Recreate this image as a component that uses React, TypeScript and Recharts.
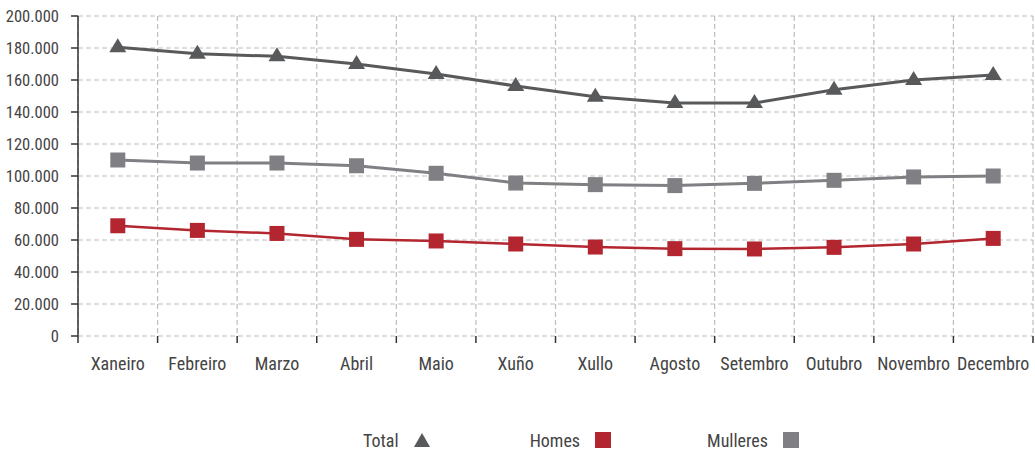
import React from 'react';
import { LineChart, Line, XAxis, YAxis, CartesianGrid, Legend } from 'recharts';

const months = ['Xaneiro', 'Febreiro', 'Marzo', 'Abril', 'Maio', 'Xuño', 'Xullo', 'Agosto', 'Setembro', 'Outubro', 'Novembro', 'Decembro'];
const total = [180400, 176400, 174800, 170000, 163750, 156250, 149600, 145600, 145600, 153900, 160000, 163200];
const homes = [68900, 66000, 64100, 60400, 59400, 57500, 55600, 54600, 54400, 55400, 57500, 61000];
const mulleres = [110000, 108100, 108100, 106400, 101700, 95600, 94600, 94000, 95400, 97300, 99400, 100000];
const yTicks = [0, 20000, 40000, 60000, 80000, 100000, 120000, 140000, 160000, 180000, 200000];
const gridTicks = [0, 1, 2, 3, 4, 5, 6, 7, 8, 9, 10, 11, 12];

const data = months.map((m, i) => ({ month: m, idx: i + 0.5, total: total[i], homes: homes[i], mulleres: mulleres[i] }));

const FONT = '"Liberation Sans Narrow", "Arial Narrow", "Roboto Condensed", "Liberation Sans", sans-serif';
const TEXT = '#444';
const C_TOTAL = '#58595b';
const C_HOMES = '#b3262f';
const C_MULL = '#808084';

const fmt = (v: number) => (v === 0 ? '0' : `${Math.round(v / 1000)}.000`);

const Tri = (props: any) => {
  const { cx, cy, fill } = props;
  if (cx == null || cy == null) return null;
  return <polygon points={`${cx},${cy - 9} ${cx + 8.5},${cy + 5} ${cx - 8.5},${cy + 5}`} fill={fill} />;
};
const Sq = (props: any) => {
  const { cx, cy, fill } = props;
  if (cx == null || cy == null) return null;
  return <rect x={cx - 7.5} y={cy - 7.5} width={15} height={15} fill={fill} />;
};

const legendItems = [
  { label: 'Total', color: C_TOTAL, shape: 'tri', gap: 100 },
  { label: 'Homes', color: C_HOMES, shape: 'sq', gap: 96 },
  { label: 'Mulleres', color: C_MULL, shape: 'sq', gap: 0 },
];

const LegendContent = () => (
  <div style={{ display: 'flex', alignItems: 'center', height: 30, paddingLeft: 363, paddingTop: 6, boxSizing: 'border-box', fontFamily: FONT, fontSize: 18, color: TEXT }}>
    {legendItems.map((it) => (
      <div key={it.label} style={{ display: 'flex', alignItems: 'center', marginRight: it.gap }}>
        <span>{it.label}</span>
        <svg width={16} height={16} style={{ marginLeft: 15 }}>
          {it.shape === 'tri' ? (
            <polygon points="8,1 16,15 0,15" fill={it.color} />
          ) : (
            <rect x={0} y={0} width={16} height={16} fill={it.color} />
          )}
        </svg>
      </div>
    ))}
  </div>
);

const EmptyTick = () => <g />;

export default function App() {
  return (
    <div style={{ position: 'absolute', left: 0, top: 0, background: '#fff' }}>
      <LineChart width={1035} height={452} data={data} margin={{ top: 16, right: 2, bottom: 0, left: 0 }}>
        <CartesianGrid xAxisId="a_grid" stroke="#bdbdbd" strokeDasharray="5 3" strokeWidth={1.2} />
        <XAxis
          xAxisId="a_grid"
          type="number"
          dataKey="idx"
          domain={[0, 12]}
          ticks={gridTicks}
          interval={0}
          allowDataOverflow
          height={1}
          tick={<EmptyTick />}
          axisLine={false}
          tickLine={{ stroke: '#333', strokeWidth: 1.5 }}
          tickSize={7}
        />
        <XAxis
          xAxisId="b_cat"
          dataKey="month"
          scale="band"
          interval={0}
          height={85}
          axisLine={false}
          tickLine={false}
          tickSize={0}
          tickMargin={20}
          tick={{ fill: TEXT, fontFamily: FONT, fontSize: 18 }}
        />
        <YAxis
          ticks={yTicks}
          domain={[0, 200000]}
          interval={0}
          width={78}
          tickFormatter={fmt}
          axisLine={{ stroke: '#333', strokeWidth: 1.5 }}
          tickLine={{ stroke: '#333', strokeWidth: 1.5 }}
          tickSize={7}
          tickMargin={12}
          tick={{ fill: TEXT, fontFamily: FONT, fontSize: 16.5 }}
        />
        <Legend verticalAlign="bottom" align="left" content={<LegendContent />} wrapperStyle={{ left: 0, width: 1035, height: 30 }} />
        <Line xAxisId="a_grid" dataKey="total" stroke="none" dot={false} activeDot={false} isAnimationActive={false} legendType="none" />
        <Line xAxisId="b_cat" dataKey="total" stroke={C_TOTAL} strokeWidth={3} dot={<Tri fill={C_TOTAL} />} activeDot={false} isAnimationActive={false} legendType="triangle" />
        <Line xAxisId="b_cat" dataKey="mulleres" stroke={C_MULL} strokeWidth={3} dot={<Sq fill={C_MULL} />} activeDot={false} isAnimationActive={false} legendType="square" />
        <Line xAxisId="b_cat" dataKey="homes" stroke={C_HOMES} strokeWidth={2.5} dot={<Sq fill={C_HOMES} />} activeDot={false} isAnimationActive={false} legendType="square" />
      </LineChart>
    </div>
  );
}
